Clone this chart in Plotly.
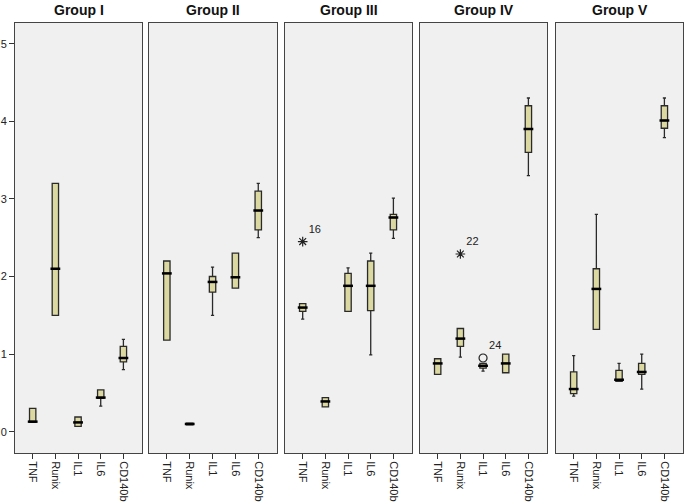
import plotly.graph_objects as go

categories = ["TNF", "Runix", "IL1", "IL6", "CD140b"]
groups = ["Group I", "Group II", "Group III", "Group IV", "Group V"]

# per group: values for TNF, Runix, IL1, IL6, CD140b
q1 = [
    [0.12, 1.50, 0.07, 0.43, 0.90],
    [1.18, 0.09, 1.80, 1.85, 2.60],
    [1.55, 0.32, 1.55, 1.56, 2.60],
    [0.74, 1.10, 0.82, 0.76, 3.60],
    [0.49, 1.32, 0.65, 0.74, 3.91],
]
median = [
    [0.13, 2.10, 0.12, 0.44, 0.95],
    [2.04, 0.10, 1.93, 1.99, 2.85],
    [1.60, 0.39, 1.88, 1.88, 2.76],
    [0.88, 1.20, 0.85, 0.88, 3.90],
    [0.55, 1.84, 0.67, 0.77, 4.01],
]
q3 = [
    [0.30, 3.20, 0.19, 0.54, 1.10],
    [2.20, 0.11, 2.00, 2.30, 3.10],
    [1.65, 0.44, 2.04, 2.20, 2.80],
    [0.94, 1.33, 0.88, 1.00, 4.20],
    [0.77, 2.10, 0.79, 0.88, 4.20],
]
lowerfence = [
    [0.12, 1.50, 0.07, 0.33, 0.80],
    [1.18, 0.09, 1.50, 1.85, 2.50],
    [1.45, 0.32, 1.55, 0.99, 2.49],
    [0.74, 0.96, 0.78, 0.76, 3.30],
    [0.46, 1.32, 0.65, 0.55, 3.79],
]
upperfence = [
    [0.30, 3.20, 0.19, 0.54, 1.19],
    [2.20, 0.11, 2.12, 2.30, 3.20],
    [1.65, 0.44, 2.11, 2.30, 3.01],
    [0.94, 1.33, 0.88, 1.00, 4.30],
    [0.98, 2.80, 0.88, 1.00, 4.30],
]

# outliers: group index, category, value, case label, marker
outlier_group = [2, 3, 3]
outlier_cat = ["TNF", "Runix", "IL1"]
outlier_val = [2.45, 2.29, 0.95]
outlier_label = ["16", "22", "24"]
outlier_symbol = ["asterisk-open", "asterisk-open", "circle-open"]

yticks = [0, 1, 2, 3, 4, 5]

W, H = 685, 504
panel_px = [(15, 142), (149, 277), (285, 412), (420, 547), (556, 683)]
ybot, ytop = 453, 22.7

fig = go.Figure()
FILL = "#dcd8a2"
EDGE = "#2a2a2a"
FONT = "Liberation Sans, Arial"

for g in range(5):
    xa = "x" if g == 0 else f"x{g+1}"
    ya = "y" if g == 0 else f"y{g+1}"
    fig.add_trace(go.Box(
        x=categories, q1=q1[g], median=median[g], q3=q3[g],
        lowerfence=lowerfence[g], upperfence=upperfence[g],
        boxpoints=False, fillcolor=FILL, width=0.28, whiskerwidth=0.5,
        line=dict(color=EDGE, width=1.3), xaxis=xa, yaxis=ya,
        showlegend=False, hoverinfo="skip"))
    fig.add_trace(go.Scatter(
        x=categories, y=median[g], mode="markers",
        marker=dict(symbol="line-ew", size=7, color="black",
                    line=dict(color="black", width=2.5)),
        xaxis=xa, yaxis=ya, showlegend=False, hoverinfo="skip"))
    ox = [c for gi, c in zip(outlier_group, outlier_cat) if gi == g]
    oy = [v for gi, v in zip(outlier_group, outlier_val) if gi == g]
    ol = [l for gi, l in zip(outlier_group, outlier_label) if gi == g]
    osym = [s for gi, s in zip(outlier_group, outlier_symbol) if gi == g]
    if ox:
        fig.add_trace(go.Scatter(
            x=ox, y=oy, mode="markers+text", text=ol,
            textposition="top right",
            textfont=dict(family=FONT, size=11, color="#222222"),
            marker=dict(symbol=osym, size=8, color="#222222",
                        line=dict(color="#222222", width=1.2)),
            xaxis=xa, yaxis=ya, showlegend=False, hoverinfo="skip"))

    x0, x1 = panel_px[g]
    xdom = [x0 / W, x1 / W]
    ydom = [(H - ybot) / H, (H - ytop) / H]
    xkey = "xaxis" if g == 0 else f"xaxis{g+1}"
    ykey = "yaxis" if g == 0 else f"yaxis{g+1}"
    fig.update_layout(**{
        xkey: dict(domain=xdom, anchor=ya, type="category",
                   categoryorder="array", categoryarray=categories,
                   range=[-0.78, 4.82], tickangle=90, ticks="outside",
                   ticklen=5, tickcolor="#333", showline=True, mirror=True,
                   linecolor="#444", linewidth=1, showgrid=False,
                   zeroline=False, automargin=False,
                   tickfont=dict(family=FONT, size=11, color="#222")),
        ykey: dict(domain=ydom, anchor=xa, range=[-0.274, 5.27],
                   tickvals=yticks, showticklabels=(g == 0),
                   ticks="outside" if g == 0 else "", ticklen=5,
                   tickcolor="#333", showline=True, mirror=True,
                   linecolor="#444", linewidth=1, showgrid=False,
                   zeroline=False, automargin=False,
                   tickfont=dict(family=FONT, size=11, color="#222")),
    })
    fig.add_annotation(x=(xdom[0] + xdom[1]) / 2, y=(H - 10) / H,
                       xref="paper", yref="paper", text=f"<b>{groups[g]}</b>",
                       showarrow=False, xanchor="center", yanchor="middle",
                       font=dict(family=FONT, size=14, color="#111"))

fig.update_layout(width=W, height=H, margin=dict(l=0, r=0, t=0, b=0),
                  paper_bgcolor="white", plot_bgcolor="#f0f0f0",
                  hovermode=False)

fig.write_html("out.html", config={"displayModeBar": False},
               post_script="document.body.style.margin='0';document.body.style.overflow='hidden';")
